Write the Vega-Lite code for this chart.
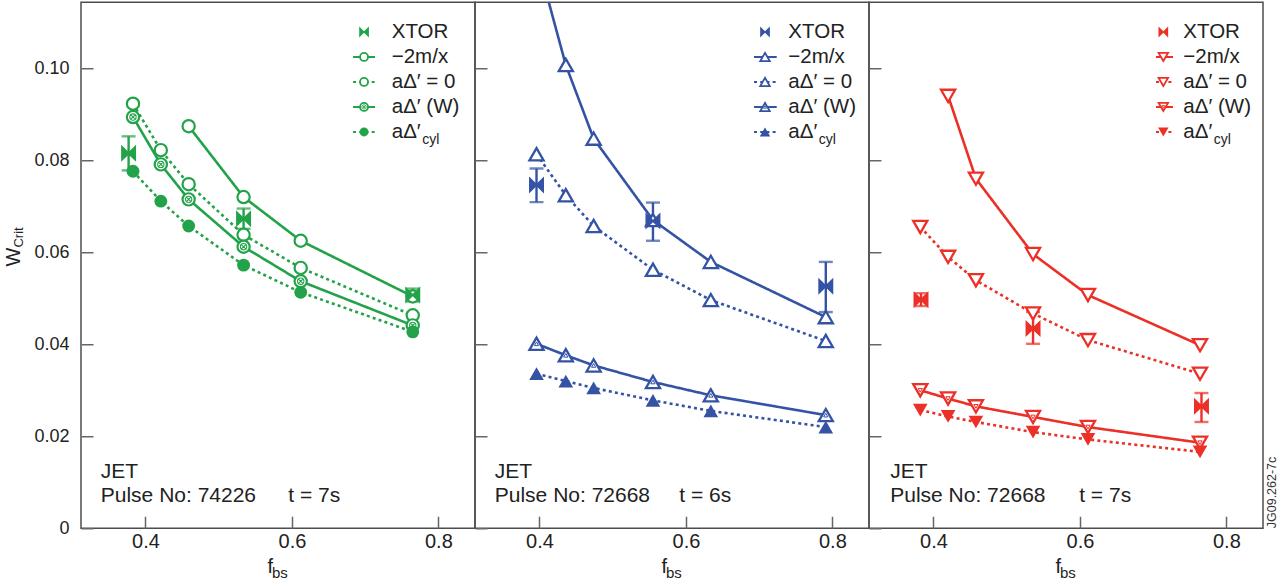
{
  "$schema": "https://vega.github.io/schema/vega-lite/v6.json",
  "background": "white",
  "padding": {"left": 3, "top": 1.25, "right": 0, "bottom": 0},
  "config": {
    "view": {"stroke": "#4d4d4d", "strokeWidth": 1.5},
    "axis": {"domain": false, "grid": false, "offset": -12, "tickColor": "#666666", "tickWidth": 1.5, "tickSize": 12, "labelFont": "Liberation Sans", "labelColor": "#222222"},
    "axisX": {"labelFontSize": 20, "labelPadding": 3},
    "axisY": {"labelFontSize": 18, "labelPadding": 12},
    "text": {"font": "Liberation Sans", "color": "#222222"}
  },
  "datasets": {
    "pts": [
      {"panel": 1, "series": "m2x", "f": 0.459, "w": 0.0874},
      {"panel": 1, "series": "m2x", "f": 0.534, "w": 0.0720},
      {"panel": 1, "series": "m2x", "f": 0.612, "w": 0.0625},
      {"panel": 1, "series": "m2x", "f": 0.765, "w": 0.0504},
      {"panel": 1, "series": "a0", "f": 0.383, "w": 0.0923},
      {"panel": 1, "series": "a0", "f": 0.421, "w": 0.0822},
      {"panel": 1, "series": "a0", "f": 0.459, "w": 0.0748},
      {"panel": 1, "series": "a0", "f": 0.534, "w": 0.0638},
      {"panel": 1, "series": "a0", "f": 0.612, "w": 0.0566},
      {"panel": 1, "series": "a0", "f": 0.765, "w": 0.0463},
      {"panel": 1, "series": "aW", "f": 0.383, "w": 0.0894},
      {"panel": 1, "series": "aW", "f": 0.421, "w": 0.0791},
      {"panel": 1, "series": "aW", "f": 0.459, "w": 0.0715},
      {"panel": 1, "series": "aW", "f": 0.534, "w": 0.0612},
      {"panel": 1, "series": "aW", "f": 0.612, "w": 0.0537},
      {"panel": 1, "series": "aW", "f": 0.765, "w": 0.0441},
      {"panel": 1, "series": "acyl", "f": 0.383, "w": 0.0776},
      {"panel": 1, "series": "acyl", "f": 0.421, "w": 0.0711},
      {"panel": 1, "series": "acyl", "f": 0.459, "w": 0.0657},
      {"panel": 1, "series": "acyl", "f": 0.534, "w": 0.0572},
      {"panel": 1, "series": "acyl", "f": 0.612, "w": 0.0513},
      {"panel": 1, "series": "acyl", "f": 0.765, "w": 0.0427},
      {"panel": 1, "series": "xtor", "f": 0.377, "w": 0.0815, "lo": 0.0778, "hi": 0.0852},
      {"panel": 1, "series": "xtor", "f": 0.534, "w": 0.0673, "lo": 0.0651, "hi": 0.0695},
      {"panel": 1, "series": "xtor", "f": 0.765, "w": 0.0507, "lo": 0.0493, "hi": 0.0521},

      {"panel": 2, "series": "m2x", "f": 0.396, "w": 0.1242},
      {"panel": 2, "series": "m2x", "f": 0.436, "w": 0.1007},
      {"panel": 2, "series": "m2x", "f": 0.474, "w": 0.0847},
      {"panel": 2, "series": "m2x", "f": 0.555, "w": 0.0670},
      {"panel": 2, "series": "m2x", "f": 0.634, "w": 0.0579},
      {"panel": 2, "series": "m2x", "f": 0.791, "w": 0.0459},
      {"panel": 2, "series": "a0", "f": 0.396, "w": 0.0813},
      {"panel": 2, "series": "a0", "f": 0.436, "w": 0.0724},
      {"panel": 2, "series": "a0", "f": 0.474, "w": 0.0657},
      {"panel": 2, "series": "a0", "f": 0.555, "w": 0.0562},
      {"panel": 2, "series": "a0", "f": 0.634, "w": 0.0496},
      {"panel": 2, "series": "a0", "f": 0.791, "w": 0.0407},
      {"panel": 2, "series": "aW", "f": 0.396, "w": 0.0401},
      {"panel": 2, "series": "aW", "f": 0.436, "w": 0.0376},
      {"panel": 2, "series": "aW", "f": 0.474, "w": 0.0354},
      {"panel": 2, "series": "aW", "f": 0.555, "w": 0.0318},
      {"panel": 2, "series": "aW", "f": 0.634, "w": 0.0289},
      {"panel": 2, "series": "aW", "f": 0.791, "w": 0.0246},
      {"panel": 2, "series": "acyl", "f": 0.396, "w": 0.0336},
      {"panel": 2, "series": "acyl", "f": 0.436, "w": 0.0320},
      {"panel": 2, "series": "acyl", "f": 0.474, "w": 0.0305},
      {"panel": 2, "series": "acyl", "f": 0.555, "w": 0.0278},
      {"panel": 2, "series": "acyl", "f": 0.634, "w": 0.0255},
      {"panel": 2, "series": "acyl", "f": 0.791, "w": 0.0220},
      {"panel": 2, "series": "xtor", "f": 0.396, "w": 0.0746, "lo": 0.0709, "hi": 0.0782},
      {"panel": 2, "series": "xtor", "f": 0.555, "w": 0.0668, "lo": 0.0625, "hi": 0.0708},
      {"panel": 2, "series": "xtor", "f": 0.791, "w": 0.0526, "lo": 0.0470, "hi": 0.0579},

      {"panel": 3, "series": "m2x", "f": 0.420, "w": 0.0940},
      {"panel": 3, "series": "m2x", "f": 0.458, "w": 0.0760},
      {"panel": 3, "series": "m2x", "f": 0.536, "w": 0.0596},
      {"panel": 3, "series": "m2x", "f": 0.611, "w": 0.0507},
      {"panel": 3, "series": "m2x", "f": 0.764, "w": 0.0398},
      {"panel": 3, "series": "a0", "f": 0.382, "w": 0.0655},
      {"panel": 3, "series": "a0", "f": 0.420, "w": 0.0590},
      {"panel": 3, "series": "a0", "f": 0.458, "w": 0.0539},
      {"panel": 3, "series": "a0", "f": 0.536, "w": 0.0467},
      {"panel": 3, "series": "a0", "f": 0.611, "w": 0.0409},
      {"panel": 3, "series": "a0", "f": 0.764, "w": 0.0336},
      {"panel": 3, "series": "aW", "f": 0.382, "w": 0.0300},
      {"panel": 3, "series": "aW", "f": 0.420, "w": 0.0282},
      {"panel": 3, "series": "aW", "f": 0.458, "w": 0.0265},
      {"panel": 3, "series": "aW", "f": 0.536, "w": 0.0242},
      {"panel": 3, "series": "aW", "f": 0.611, "w": 0.0220},
      {"panel": 3, "series": "aW", "f": 0.764, "w": 0.0186},
      {"panel": 3, "series": "acyl", "f": 0.382, "w": 0.0257},
      {"panel": 3, "series": "acyl", "f": 0.420, "w": 0.0243},
      {"panel": 3, "series": "acyl", "f": 0.458, "w": 0.0231},
      {"panel": 3, "series": "acyl", "f": 0.536, "w": 0.0209},
      {"panel": 3, "series": "acyl", "f": 0.611, "w": 0.0193},
      {"panel": 3, "series": "acyl", "f": 0.764, "w": 0.0166},
      {"panel": 3, "series": "xtor", "f": 0.383, "w": 0.0497, "lo": 0.0483, "hi": 0.0511},
      {"panel": 3, "series": "xtor", "f": 0.536, "w": 0.0434, "lo": 0.0401, "hi": 0.0470},
      {"panel": 3, "series": "xtor", "f": 0.766, "w": 0.0265, "lo": 0.0231, "hi": 0.0294}
    ],
    "notes": [
      {"panel": 1, "shot": "Pulse No: 74226", "time": "t = 7s"},
      {"panel": 2, "shot": "Pulse No: 72668", "time": "t = 6s"},
      {"panel": 3, "shot": "Pulse No: 72668", "time": "t = 7s"}
    ],
    "legend": [
      {"order": 0, "series": "xtor", "label": "XTOR"},
      {"order": 1, "series": "m2x", "label": "−2m/x"},
      {"order": 2, "series": "a0", "label": "aΔ′ = 0"},
      {"order": 3, "series": "aW", "label": "aΔ′ (W)"},
      {"order": 4, "series": "acyl", "label": "aΔ′", "sub": "cyl"}
    ]
  },
  "spacing": 0,
  "bounds": "flush",
  "hconcat": [
    {
      "width": 394, "height": 526,
      "resolve": {"scale": {"y": "independent"}},
      "layer": [
        {
          "data": {"name": "pts"},
          "transform": [{"filter": "datum.panel == 1"}],
          "layer": [
            {"transform": [{"filter": "datum.series != 'xtor'"}],
             "mark": {"type": "line", "color": "#22a34a", "strokeWidth": 2.6, "clip": true},
             "encoding": {
               "x": {"field": "f", "type": "quantitative", "title": null, "scale": {"domain": [0.312, 0.85], "nice": false, "zero": false}, "axis": {"values": [0.4, 0.6, 0.8], "format": ".1f"}},
               "y": {"field": "w", "type": "quantitative", "title": null, "scale": {"domain": [0, 0.11435], "nice": false, "zero": false}, "axis": {"values": [0, 0.02, 0.04, 0.06, 0.08, 0.1], "labelExpr": "datum.value == 0 ? '0' : format(datum.value, '.2f')"}},
               "strokeDash": {"field": "series", "type": "nominal", "scale": {"domain": ["m2x", "a0", "aW", "acyl"], "range": [[1, 0], [3, 3.2], [1, 0], [3, 3.2]]}, "legend": null}
             }},
            {"transform": [{"filter": "datum.series == 'xtor'"}],
             "mark": {"type": "errorbar", "ticks": {"size": 14, "thickness": 2.4, "color": "#22a34a"}, "rule": {"strokeWidth": 2.4, "color": "#22a34a"}},
             "encoding": {
               "x": {"field": "f", "type": "quantitative", "title": null},
               "y": {"field": "lo", "type": "quantitative", "title": null},
               "y2": {"field": "hi"}
             }},
            {"transform": [{"filter": "indexof(['m2x','a0','aW'], datum.series) >= 0"}],
             "mark": {"type": "point", "shape": "circle", "size": 150, "stroke": "#22a34a", "strokeWidth": 2.2, "fill": "white", "opacity": 1, "fillOpacity": 1, "clip": true},
             "encoding": {"x": {"field": "f", "type": "quantitative", "title": null}, "y": {"field": "w", "type": "quantitative", "title": null}}},
            {"transform": [{"filter": "datum.series == 'acyl'"}],
             "mark": {"type": "point", "shape": "circle", "size": 165, "filled": true, "color": "#22a34a", "opacity": 1},
             "encoding": {"x": {"field": "f", "type": "quantitative", "title": null}, "y": {"field": "w", "type": "quantitative", "title": null}}},
            {"transform": [{"filter": "datum.series == 'aW'"}],
             "mark": {"type": "point", "shape": "M1,0A1,1 0 1 1 -1,0A1,1 0 1 1 1,0M-0.7,-0.7L0.7,0.7M-0.7,0.7L0.7,-0.7", "size": 40, "stroke": "#22a34a", "strokeWidth": 1.1, "filled": false, "opacity": 1},
             "encoding": {"x": {"field": "f", "type": "quantitative", "title": null}, "y": {"field": "w", "type": "quantitative", "title": null}}},
            {"transform": [{"filter": "datum.series == 'xtor'"}],
             "mark": {"type": "point", "shape": "M-0.88,-1L0,-0.15L0.88,-1L0.88,1L0,0.15L-0.88,1Z", "size": 289, "filled": true, "color": "#22a34a", "opacity": 1},
             "encoding": {"x": {"field": "f", "type": "quantitative", "title": null}, "y": {"field": "w", "type": "quantitative", "title": null}}}
          ]
        },
        {
          "data": {"name": "notes"},
          "transform": [{"filter": "datum.panel == 1"}],
          "layer": [
            {"mark": {"type": "text", "align": "left", "baseline": "alphabetic", "fontSize": 21},
             "encoding": {"x": {"datum": 0.339, "type": "quantitative", "title": null}, "y": {"datum": 0.01087, "type": "quantitative", "scale": {"domain": [0, 0.11435], "nice": false, "zero": false}, "axis": null}, "text": {"value": "JET"}}},
            {"mark": {"type": "text", "align": "left", "baseline": "alphabetic", "fontSize": 21},
             "encoding": {"x": {"datum": 0.339, "type": "quantitative", "title": null}, "y": {"datum": 0.00572, "type": "quantitative", "axis": null}, "text": {"field": "shot"}}},
            {"mark": {"type": "text", "align": "left", "baseline": "alphabetic", "fontSize": 21},
             "encoding": {"x": {"datum": 0.595, "type": "quantitative", "title": null}, "y": {"datum": 0.00572, "type": "quantitative", "axis": null}, "text": {"field": "time"}}},
            {"mark": {"type": "text", "align": "right", "baseline": "alphabetic", "fontSize": 20, "dx": -5, "dy": 45},
             "encoding": {"x": {"datum": 0.581, "type": "quantitative", "title": null}, "y": {"datum": 0, "type": "quantitative", "axis": null}, "text": {"value": "f"}}},
            {"mark": {"type": "text", "align": "left", "baseline": "alphabetic", "fontSize": 15, "dx": -6, "dy": 50},
             "encoding": {"x": {"datum": 0.581, "type": "quantitative", "title": null}, "y": {"datum": 0, "type": "quantitative", "axis": null}, "text": {"value": "bs"}}},
            {"mark": {"type": "text", "align": "left", "baseline": "alphabetic", "fontSize": 20, "angle": 270, "dy": -61},
             "encoding": {"x": {"datum": 0.312, "type": "quantitative", "title": null}, "y": {"datum": 0.0569, "type": "quantitative", "axis": null}, "text": {"value": "W"}}},
            {"mark": {"type": "text", "align": "left", "baseline": "alphabetic", "fontSize": 13, "angle": 270, "dx": 19, "dy": -58},
             "encoding": {"x": {"datum": 0.312, "type": "quantitative", "title": null}, "y": {"datum": 0.0569, "type": "quantitative", "axis": null}, "text": {"value": "Crit"}}}
          ]
        },
        {
          "data": {"name": "legend"},
          "encoding": {
            "y": {"field": "order", "type": "quantitative", "scale": {"domain": [-1.188, 19.852], "reverse": true, "nice": false, "zero": false}, "axis": null}
          },
          "layer": [
            {"transform": [{"filter": "datum.series != 'xtor'"}],
             "mark": {"type": "rule", "color": "#22a34a", "strokeWidth": 2},
             "encoding": {"x": {"datum": 0.6835, "type": "quantitative", "title": null}, "x2": {"datum": 0.7135},
               "strokeDash": {"field": "series", "type": "nominal", "scale": {"domain": ["m2x", "a0", "aW", "acyl"], "range": [[1, 0], [3, 3.2], [1, 0], [3, 3.2]]}, "legend": null}}},
            {"transform": [{"filter": "indexof(['m2x','a0','aW'], datum.series) >= 0"}],
             "mark": {"type": "point", "shape": "circle", "size": 64, "stroke": "#22a34a", "strokeWidth": 1.8, "fill": "white", "opacity": 1, "fillOpacity": 1},
             "encoding": {"x": {"datum": 0.6985, "type": "quantitative", "title": null}}},
            {"transform": [{"filter": "datum.series == 'acyl'"}],
             "mark": {"type": "point", "shape": "circle", "size": 80, "filled": true, "color": "#22a34a", "opacity": 1},
             "encoding": {"x": {"datum": 0.6985, "type": "quantitative", "title": null}}},
            {"transform": [{"filter": "datum.series == 'aW'"}],
             "mark": {"type": "point", "shape": "M1,0A1,1 0 1 1 -1,0A1,1 0 1 1 1,0M-0.7,-0.7L0.7,0.7M-0.7,0.7L0.7,-0.7", "size": 18, "stroke": "#22a34a", "strokeWidth": 0.9, "filled": false, "opacity": 1},
             "encoding": {"x": {"datum": 0.6985, "type": "quantitative", "title": null}}},
            {"transform": [{"filter": "datum.series == 'xtor'"}],
             "mark": {"type": "point", "shape": "M-0.88,-1L0,-0.15L0.88,-1L0.88,1L0,0.15L-0.88,1Z", "size": 121, "filled": true, "color": "#22a34a", "opacity": 1},
             "encoding": {"x": {"datum": 0.6985, "type": "quantitative", "title": null}}},
            {"mark": {"type": "text", "align": "left", "baseline": "middle", "fontSize": 20.5},
             "encoding": {"x": {"datum": 0.7363, "type": "quantitative", "title": null}, "text": {"field": "label"}}},
            {"transform": [{"filter": "datum.sub"}],
             "mark": {"type": "text", "align": "left", "baseline": "middle", "fontSize": 14, "dx": 30.5, "dy": 8},
             "encoding": {"x": {"datum": 0.7363, "type": "quantitative", "title": null}, "text": {"field": "sub"}}}
          ]
        }
      ]
    },
    {
      "width": 394, "height": 526,
      "resolve": {"scale": {"y": "independent"}},
      "layer": [
        {
          "data": {"name": "pts"},
          "transform": [{"filter": "datum.panel == 2"}],
          "layer": [
            {"transform": [{"filter": "datum.series != 'xtor'"}],
             "mark": {"type": "line", "color": "#3453a4", "strokeWidth": 2.6, "clip": true},
             "encoding": {
               "x": {"field": "f", "type": "quantitative", "title": null, "scale": {"domain": [0.312, 0.85], "nice": false, "zero": false}, "axis": {"values": [0.4, 0.6, 0.8], "format": ".1f"}},
               "y": {"field": "w", "type": "quantitative", "title": null, "scale": {"domain": [0, 0.11435], "nice": false, "zero": false}, "axis": {"values": [0, 0.02, 0.04, 0.06, 0.08, 0.1], "labels": false}},
               "strokeDash": {"field": "series", "type": "nominal", "scale": {"domain": ["m2x", "a0", "aW", "acyl"], "range": [[1, 0], [3, 3.2], [1, 0], [3, 3.2]]}, "legend": null}
             }},
            {"transform": [{"filter": "datum.series == 'xtor'"}],
             "mark": {"type": "errorbar", "ticks": {"size": 14, "thickness": 2.4, "color": "#3453a4"}, "rule": {"strokeWidth": 2.4, "color": "#3453a4"}},
             "encoding": {
               "x": {"field": "f", "type": "quantitative", "title": null},
               "y": {"field": "lo", "type": "quantitative", "title": null},
               "y2": {"field": "hi"}
             }},
            {"transform": [{"filter": "indexof(['m2x','a0','aW'], datum.series) >= 0"}],
             "mark": {"type": "point", "shape": "triangle-up", "size": 200, "stroke": "#3453a4", "strokeWidth": 2.3, "fill": "white", "opacity": 1, "fillOpacity": 1, "clip": true},
             "encoding": {"x": {"field": "f", "type": "quantitative", "title": null}, "y": {"field": "w", "type": "quantitative", "title": null}}},
            {"transform": [{"filter": "datum.series == 'acyl'"}],
             "mark": {"type": "point", "shape": "triangle-up", "size": 215, "filled": true, "color": "#3453a4", "opacity": 1},
             "encoding": {"x": {"field": "f", "type": "quantitative", "title": null}, "y": {"field": "w", "type": "quantitative", "title": null}}},
            {"transform": [{"filter": "datum.series == 'aW'"}],
             "mark": {"type": "point", "shape": "triangle-up", "size": 18, "stroke": "#3453a4", "strokeWidth": 1, "filled": false, "opacity": 1},
             "encoding": {"x": {"field": "f", "type": "quantitative", "title": null}, "y": {"field": "w", "type": "quantitative", "title": null}}},
            {"transform": [{"filter": "datum.series == 'xtor'"}],
             "mark": {"type": "point", "shape": "M-0.88,-1L0,-0.15L0.88,-1L0.88,1L0,0.15L-0.88,1Z", "size": 289, "filled": true, "color": "#3453a4", "opacity": 1},
             "encoding": {"x": {"field": "f", "type": "quantitative", "title": null}, "y": {"field": "w", "type": "quantitative", "title": null}}}
          ]
        },
        {
          "data": {"name": "notes"},
          "transform": [{"filter": "datum.panel == 2"}],
          "layer": [
            {"mark": {"type": "text", "align": "left", "baseline": "alphabetic", "fontSize": 21},
             "encoding": {"x": {"datum": 0.339, "type": "quantitative", "title": null}, "y": {"datum": 0.01087, "type": "quantitative", "scale": {"domain": [0, 0.11435], "nice": false, "zero": false}, "axis": null}, "text": {"value": "JET"}}},
            {"mark": {"type": "text", "align": "left", "baseline": "alphabetic", "fontSize": 21},
             "encoding": {"x": {"datum": 0.339, "type": "quantitative", "title": null}, "y": {"datum": 0.00572, "type": "quantitative", "axis": null}, "text": {"field": "shot"}}},
            {"mark": {"type": "text", "align": "left", "baseline": "alphabetic", "fontSize": 21},
             "encoding": {"x": {"datum": 0.591, "type": "quantitative", "title": null}, "y": {"datum": 0.00572, "type": "quantitative", "axis": null}, "text": {"field": "time"}}},
            {"mark": {"type": "text", "align": "right", "baseline": "alphabetic", "fontSize": 20, "dx": -5, "dy": 45},
             "encoding": {"x": {"datum": 0.581, "type": "quantitative", "title": null}, "y": {"datum": 0, "type": "quantitative", "axis": null}, "text": {"value": "f"}}},
            {"mark": {"type": "text", "align": "left", "baseline": "alphabetic", "fontSize": 15, "dx": -6, "dy": 50},
             "encoding": {"x": {"datum": 0.581, "type": "quantitative", "title": null}, "y": {"datum": 0, "type": "quantitative", "axis": null}, "text": {"value": "bs"}}}
          ]
        },
        {
          "data": {"name": "legend"},
          "encoding": {
            "y": {"field": "order", "type": "quantitative", "scale": {"domain": [-1.188, 19.852], "reverse": true, "nice": false, "zero": false}, "axis": null}
          },
          "layer": [
            {"transform": [{"filter": "datum.series != 'xtor'"}],
             "mark": {"type": "rule", "color": "#3453a4", "strokeWidth": 2},
             "encoding": {"x": {"datum": 0.693, "type": "quantitative", "title": null}, "x2": {"datum": 0.724},
               "strokeDash": {"field": "series", "type": "nominal", "scale": {"domain": ["m2x", "a0", "aW", "acyl"], "range": [[1, 0], [3, 3.2], [1, 0], [3, 3.2]]}, "legend": null}}},
            {"transform": [{"filter": "indexof(['m2x','a0','aW'], datum.series) >= 0"}],
             "mark": {"type": "point", "shape": "triangle-up", "size": 90, "stroke": "#3453a4", "strokeWidth": 1.8, "fill": "white", "opacity": 1, "fillOpacity": 1},
             "encoding": {"x": {"datum": 0.708, "type": "quantitative", "title": null}}},
            {"transform": [{"filter": "datum.series == 'acyl'"}],
             "mark": {"type": "point", "shape": "triangle-up", "size": 110, "filled": true, "color": "#3453a4", "opacity": 1},
             "encoding": {"x": {"datum": 0.708, "type": "quantitative", "title": null}}},
            {"transform": [{"filter": "datum.series == 'aW'"}],
             "mark": {"type": "point", "shape": "triangle-up", "size": 9, "stroke": "#3453a4", "strokeWidth": 0.9, "filled": false, "opacity": 1},
             "encoding": {"x": {"datum": 0.708, "type": "quantitative", "title": null}}},
            {"transform": [{"filter": "datum.series == 'xtor'"}],
             "mark": {"type": "point", "shape": "M-0.88,-1L0,-0.15L0.88,-1L0.88,1L0,0.15L-0.88,1Z", "size": 121, "filled": true, "color": "#3453a4", "opacity": 1},
             "encoding": {"x": {"datum": 0.708, "type": "quantitative", "title": null}}},
            {"mark": {"type": "text", "align": "left", "baseline": "middle", "fontSize": 20.5},
             "encoding": {"x": {"datum": 0.7399, "type": "quantitative", "title": null}, "text": {"field": "label"}}},
            {"transform": [{"filter": "datum.sub"}],
             "mark": {"type": "text", "align": "left", "baseline": "middle", "fontSize": 14, "dx": 30.5, "dy": 8},
             "encoding": {"x": {"datum": 0.7399, "type": "quantitative", "title": null}, "text": {"field": "sub"}}}
          ]
        }
      ]
    },
    {
      "width": 394, "height": 526,
      "resolve": {"scale": {"y": "independent"}},
      "layer": [
        {
          "data": {"name": "pts"},
          "transform": [{"filter": "datum.panel == 3"}],
          "layer": [
            {"transform": [{"filter": "datum.series != 'xtor'"}],
             "mark": {"type": "line", "color": "#ec3027", "strokeWidth": 2.6, "clip": true},
             "encoding": {
               "x": {"field": "f", "type": "quantitative", "title": null, "scale": {"domain": [0.312, 0.85], "nice": false, "zero": false}, "axis": {"values": [0.4, 0.6, 0.8], "format": ".1f"}},
               "y": {"field": "w", "type": "quantitative", "title": null, "scale": {"domain": [0, 0.11435], "nice": false, "zero": false}, "axis": {"values": [0, 0.02, 0.04, 0.06, 0.08, 0.1], "labels": false}},
               "strokeDash": {"field": "series", "type": "nominal", "scale": {"domain": ["m2x", "a0", "aW", "acyl"], "range": [[1, 0], [3, 3.2], [1, 0], [3, 3.2]]}, "legend": null}
             }},
            {"transform": [{"filter": "datum.series == 'xtor'"}],
             "mark": {"type": "errorbar", "ticks": {"size": 14, "thickness": 2.4, "color": "#ec3027"}, "rule": {"strokeWidth": 2.4, "color": "#ec3027"}},
             "encoding": {
               "x": {"field": "f", "type": "quantitative", "title": null},
               "y": {"field": "lo", "type": "quantitative", "title": null},
               "y2": {"field": "hi"}
             }},
            {"transform": [{"filter": "indexof(['m2x','a0','aW'], datum.series) >= 0"}],
             "mark": {"type": "point", "shape": "triangle-down", "size": 200, "stroke": "#ec3027", "strokeWidth": 2.3, "fill": "white", "opacity": 1, "fillOpacity": 1, "clip": true},
             "encoding": {"x": {"field": "f", "type": "quantitative", "title": null}, "y": {"field": "w", "type": "quantitative", "title": null}}},
            {"transform": [{"filter": "datum.series == 'acyl'"}],
             "mark": {"type": "point", "shape": "triangle-down", "size": 215, "filled": true, "color": "#ec3027", "opacity": 1},
             "encoding": {"x": {"field": "f", "type": "quantitative", "title": null}, "y": {"field": "w", "type": "quantitative", "title": null}}},
            {"transform": [{"filter": "datum.series == 'aW'"}],
             "mark": {"type": "point", "shape": "triangle-down", "size": 18, "stroke": "#ec3027", "strokeWidth": 1, "filled": false, "opacity": 1},
             "encoding": {"x": {"field": "f", "type": "quantitative", "title": null}, "y": {"field": "w", "type": "quantitative", "title": null}}},
            {"transform": [{"filter": "datum.series == 'xtor'"}],
             "mark": {"type": "point", "shape": "M-0.88,-1L0,-0.15L0.88,-1L0.88,1L0,0.15L-0.88,1Z", "size": 289, "filled": true, "color": "#ec3027", "opacity": 1},
             "encoding": {"x": {"field": "f", "type": "quantitative", "title": null}, "y": {"field": "w", "type": "quantitative", "title": null}}}
          ]
        },
        {
          "data": {"name": "notes"},
          "transform": [{"filter": "datum.panel == 3"}],
          "layer": [
            {"mark": {"type": "text", "align": "left", "baseline": "alphabetic", "fontSize": 21},
             "encoding": {"x": {"datum": 0.341, "type": "quantitative", "title": null}, "y": {"datum": 0.01087, "type": "quantitative", "scale": {"domain": [0, 0.11435], "nice": false, "zero": false}, "axis": null}, "text": {"value": "JET"}}},
            {"mark": {"type": "text", "align": "left", "baseline": "alphabetic", "fontSize": 21},
             "encoding": {"x": {"datum": 0.341, "type": "quantitative", "title": null}, "y": {"datum": 0.00572, "type": "quantitative", "axis": null}, "text": {"field": "shot"}}},
            {"mark": {"type": "text", "align": "left", "baseline": "alphabetic", "fontSize": 21},
             "encoding": {"x": {"datum": 0.599, "type": "quantitative", "title": null}, "y": {"datum": 0.00572, "type": "quantitative", "axis": null}, "text": {"field": "time"}}},
            {"mark": {"type": "text", "align": "right", "baseline": "alphabetic", "fontSize": 20, "dx": -5, "dy": 45},
             "encoding": {"x": {"datum": 0.581, "type": "quantitative", "title": null}, "y": {"datum": 0, "type": "quantitative", "axis": null}, "text": {"value": "f"}}},
            {"mark": {"type": "text", "align": "left", "baseline": "alphabetic", "fontSize": 15, "dx": -6, "dy": 50},
             "encoding": {"x": {"datum": 0.581, "type": "quantitative", "title": null}, "y": {"datum": 0, "type": "quantitative", "axis": null}, "text": {"value": "bs"}}},
            {"mark": {"type": "text", "align": "left", "baseline": "alphabetic", "fontSize": 12.5, "angle": 270, "dy": 13, "color": "#333333"},
             "encoding": {"x": {"datum": 0.85, "type": "quantitative", "title": null}, "y": {"datum": 0, "type": "quantitative", "axis": null}, "text": {"value": "JG09.262-7c"}}}
          ]
        },
        {
          "data": {"name": "legend"},
          "encoding": {
            "y": {"field": "order", "type": "quantitative", "scale": {"domain": [-1.188, 19.852], "reverse": true, "nice": false, "zero": false}, "axis": null}
          },
          "layer": [
            {"transform": [{"filter": "datum.series != 'xtor'"}],
             "mark": {"type": "rule", "color": "#ec3027", "strokeWidth": 2},
             "encoding": {"x": {"datum": 0.7039, "type": "quantitative", "title": null}, "x2": {"datum": 0.7271},
               "strokeDash": {"field": "series", "type": "nominal", "scale": {"domain": ["m2x", "a0", "aW", "acyl"], "range": [[1, 0], [3, 3.2], [1, 0], [3, 3.2]]}, "legend": null}}},
            {"transform": [{"filter": "indexof(['m2x','a0','aW'], datum.series) >= 0"}],
             "mark": {"type": "point", "shape": "triangle-down", "size": 90, "stroke": "#ec3027", "strokeWidth": 1.8, "fill": "white", "opacity": 1, "fillOpacity": 1},
             "encoding": {"x": {"datum": 0.7139, "type": "quantitative", "title": null}}},
            {"transform": [{"filter": "datum.series == 'acyl'"}],
             "mark": {"type": "point", "shape": "triangle-down", "size": 110, "filled": true, "color": "#ec3027", "opacity": 1},
             "encoding": {"x": {"datum": 0.7139, "type": "quantitative", "title": null}}},
            {"transform": [{"filter": "datum.series == 'aW'"}],
             "mark": {"type": "point", "shape": "triangle-down", "size": 9, "stroke": "#ec3027", "strokeWidth": 0.9, "filled": false, "opacity": 1},
             "encoding": {"x": {"datum": 0.7139, "type": "quantitative", "title": null}}},
            {"transform": [{"filter": "datum.series == 'xtor'"}],
             "mark": {"type": "point", "shape": "M-0.88,-1L0,-0.15L0.88,-1L0.88,1L0,0.15L-0.88,1Z", "size": 121, "filled": true, "color": "#ec3027", "opacity": 1},
             "encoding": {"x": {"datum": 0.7139, "type": "quantitative", "title": null}}},
            {"mark": {"type": "text", "align": "left", "baseline": "middle", "fontSize": 20.5},
             "encoding": {"x": {"datum": 0.7412, "type": "quantitative", "title": null}, "text": {"field": "label"}}},
            {"transform": [{"filter": "datum.sub"}],
             "mark": {"type": "text", "align": "left", "baseline": "middle", "fontSize": 14, "dx": 30.5, "dy": 8},
             "encoding": {"x": {"datum": 0.7412, "type": "quantitative", "title": null}, "text": {"field": "sub"}}}
          ]
        }
      ]
    }
  ]
}
